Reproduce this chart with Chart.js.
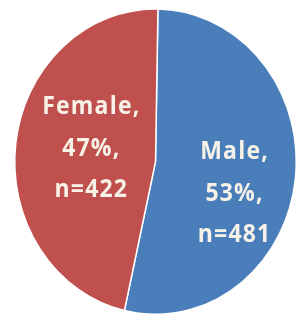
<!DOCTYPE html>
<html><head><meta charset="utf-8">
<script src="https://cdn.jsdelivr.net/npm/chart.js@4"></script>
<style>
html,body{margin:0;padding:0;background:#fff;overflow:hidden}
canvas{display:block}
</style></head><body>
<canvas id="c" width="300" height="320"></canvas>
<script>
const categories = ['Male', 'Female'];
const counts = [481, 422];
const sliceColors = ['#4A7EBB', '#C0504D'];

const STRETCH_Y = 1.085;

const sliceLabels = {
  id: 'sliceLabels',
  beforeDatasetsDraw(chart) {
    chart.ctx.save();
    chart.ctx.scale(1, STRETCH_Y);
  },
  afterDatasetsDraw(chart, args, opts) {
    const ctx = chart.ctx;
    const meta = chart.getDatasetMeta(0);
    const total = counts.reduce((a, b) => a + b, 0);
    ctx.save();
    ctx.font = opts.font;
    ctx.fillStyle = opts.color;
    ctx.textAlign = 'center';
    ctx.textBaseline = 'alphabetic';
    if ('letterSpacing' in ctx) ctx.letterSpacing = opts.letterSpacing;
    meta.data.forEach((arc, i) => {
      const p = arc.getProps(['x', 'y', 'outerRadius'], true);
      const a = opts.anchors[i];
      const cx = p.x + p.outerRadius * a[0];
      const cy = p.y + p.outerRadius * a[1];
      const lines = [categories[i] + ',', Math.round(counts[i] / total * 100) + '%,', 'n=' + counts[i]];
      lines.forEach((t, k) => ctx.fillText(t, cx, cy + (k - 1) * opts.lineHeight));
    });
    ctx.restore();
    ctx.restore();
  }
};

new Chart(document.getElementById('c'), {
  type: 'pie',
  data: {
    labels: categories,
    datasets: [{
      data: counts,
      backgroundColor: sliceColors,
      borderColor: '#ffffff',
      borderWidth: 1.5,
      clip: false
    }]
  },
  options: {
    responsive: false,
    animation: false,
    rotation: 1,
    layout: { padding: { left: 14, right: 3, top: 7, bottom: 29 } },
    plugins: {
      legend: { display: false },
      tooltip: { enabled: false },
      sliceLabels: {
        font: 'bold 23px "Open Sans"',
        color: '#F7F2E8',
        letterSpacing: '1.2px',
        lineHeight: 38,
        anchors: [[0.562, 0.255], [-0.456, -0.04]]
      }
    }
  },
  plugins: [sliceLabels]
});
</script>
</body></html>
